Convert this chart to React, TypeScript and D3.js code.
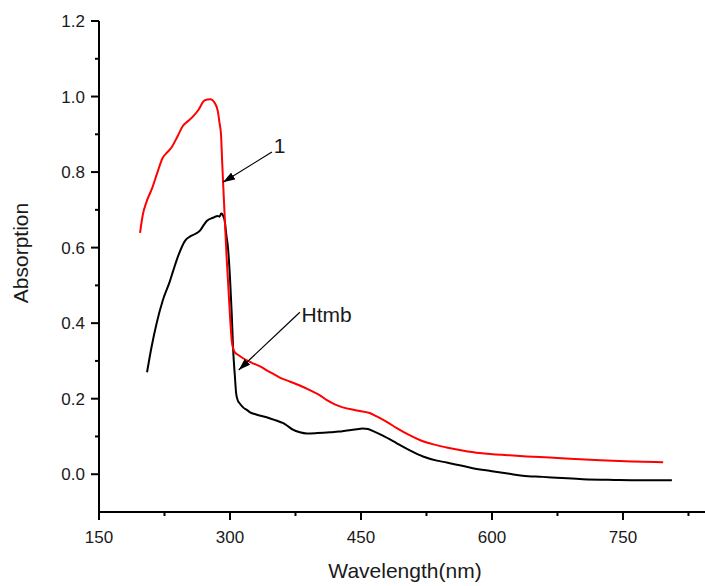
import React from "react";
import * as d3 from "d3";

const redWavelength = [197,200,205,211,217,223,228,233,240,246,252,258,264,270,274,278,282,286,288,289.7,291,292,294,296,297.7,300,302,304,306,310,315,325,335,342,350,357,369,380,392,403,411,420,429,445,460,468,480,491,505,518,533,548,566,586,601,620,640,666,695,724,760,796];
const redAbsorption = [0.639,0.685,0.725,0.758,0.80,0.838,0.852,0.865,0.895,0.922,0.935,0.948,0.965,0.988,0.992,0.993,0.985,0.962,0.93,0.90,0.83,0.777,0.679,0.58,0.513,0.42,0.354,0.330,0.322,0.315,0.307,0.295,0.285,0.275,0.265,0.256,0.245,0.235,0.222,0.209,0.196,0.185,0.177,0.169,0.162,0.153,0.138,0.122,0.104,0.090,0.079,0.071,0.063,0.056,0.053,0.050,0.047,0.044,0.040,0.037,0.034,0.032];

const blackWavelength = [205,210,216,223,231,235,241,248.5,254,260,265.6,270,273.7,280.5,286,288,290,292,294,296,297.7,300,302,303.5,305.7,307,309,311,315,320,323,330,342,352,361,367,372,380,388,400,414.5,425,434,445,452,458,464,475,491,506,521,537,548,563,578,600,620,635,658,680,704,740,770,806];
const blackAbsorption = [0.27,0.335,0.40,0.46,0.51,0.539,0.58,0.618,0.629,0.636,0.645,0.66,0.671,0.679,0.684,0.682,0.69,0.685,0.67,0.63,0.6,0.52,0.425,0.335,0.256,0.215,0.195,0.188,0.177,0.169,0.164,0.158,0.151,0.143,0.135,0.126,0.118,0.111,0.108,0.109,0.111,0.113,0.116,0.119,0.121,0.120,0.114,0.102,0.082,0.063,0.047,0.036,0.031,0.024,0.016,0.008,0.001,-0.004,-0.007,-0.010,-0.013,-0.015,-0.016,-0.016];

const xMajorTicks = [150, 300, 450, 600, 750];
const xMinorTicks = [225, 375, 525, 675, 825];
const yMajorTicks = [0.0, 0.2, 0.4, 0.6, 0.8, 1.0, 1.2];
const yMinorTicks = [0.1, 0.3, 0.5, 0.7, 0.9, 1.1];

const annotations = [
  { label: "1", tail: [348, 0.853], tip: [292, 0.773], text: [350, 0.85] },
  { label: "Htmb", tail: [380, 0.429], tip: [310, 0.276], text: [382, 0.403] },
];

const W = 705, H = 586;
const FONT = "'Liberation Sans', Arial, sans-serif";

export default function App() {
  const x = d3.scaleLinear().domain([150, 850]).range([99, 710.3]);
  const y = d3.scaleLinear().domain([-0.1, 1.2]).range([512, 21]);
  const line = d3.line<[number, number]>().x(d => x(d[0])).y(d => y(d[1])).curve(d3.curveMonotoneX);
  const red = redWavelength.map((w, i) => [w, redAbsorption[i]] as [number, number]);
  const black = blackWavelength.map((w, i) => [w, blackAbsorption[i]] as [number, number]);
  const x0 = x(150), yb = y(-0.1);
  const textColor = "#1a1a1a";

  return (
    <svg width={W} height={H} style={{ position: "absolute", left: 0, top: 0, background: "#fff" }} fontFamily={FONT}>
      <defs>
        <marker id="ah" viewBox="0 0 12 8" refX="12" refY="4" markerWidth="12" markerHeight="8" markerUnits="userSpaceOnUse" orient="auto">
          <path d="M0,0 L12,4 L0,8 Z" fill="#000" />
        </marker>
      </defs>
      {/* curves */}
      <path d={line(black) || ""} fill="none" stroke="#000" strokeWidth={2} strokeLinejoin="round" />
      <path d={line(red) || ""} fill="none" stroke="#ff0000" strokeWidth={2} strokeLinejoin="round" />
      {/* axes */}
      <line x1={x0} x2={x0} y1={y(1.2)} y2={yb + 1} stroke="#000" strokeWidth={2} />
      <line x1={x0 - 1} x2={W} y1={yb} y2={yb} stroke="#000" strokeWidth={2} />
      {yMajorTicks.map(t => (
        <g key={"ym" + t}>
          <line x1={x0 - 8} x2={x0} y1={y(t)} y2={y(t)} stroke="#000" strokeWidth={2} />
          <text x={x0 - 14} y={y(t)} dy="0.36em" textAnchor="end" fontSize={17} fill={textColor}>{t.toFixed(1)}</text>
        </g>
      ))}
      {yMinorTicks.map(t => (
        <line key={"yn" + t} x1={x0 - 4} x2={x0} y1={y(t)} y2={y(t)} stroke="#000" strokeWidth={2} />
      ))}
      {xMajorTicks.map(t => (
        <g key={"xm" + t}>
          <line x1={x(t)} x2={x(t)} y1={yb} y2={yb + 8} stroke="#000" strokeWidth={2} />
          <text x={x(t)} y={543} textAnchor="middle" fontSize={17} fill={textColor}>{t}</text>
        </g>
      ))}
      {xMinorTicks.map(t => (
        <line key={"xn" + t} x1={x(t)} x2={x(t)} y1={yb} y2={yb + 4} stroke="#000" strokeWidth={2} />
      ))}
      <text x={405} y={578} textAnchor="middle" fontSize={21} fill={textColor}>Wavelength(nm)</text>
      <text transform={`translate(28,253) rotate(-90)`} textAnchor="middle" fontSize={21} fill={textColor}>Absorption</text>
      {/* annotations */}
      {annotations.map(a => (
        <g key={a.label}>
          <line x1={x(a.tail[0])} y1={y(a.tail[1])} x2={x(a.tip[0])} y2={y(a.tip[1])} stroke="#000" strokeWidth={1.2} markerEnd="url(#ah)" />
          <text x={x(a.text[0])} y={y(a.text[1])} fontSize={21} fill={textColor}>{a.label}</text>
        </g>
      ))}
    </svg>
  );
}
